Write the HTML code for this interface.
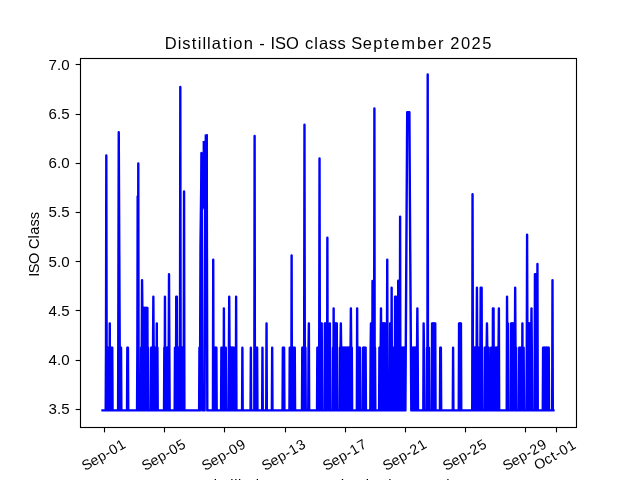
<!DOCTYPE html>
<html><head><meta charset="utf-8"><title>Distillation - ISO class September 2025</title>
<style>html,body{margin:0;padding:0;background:#fff;}svg{display:block;will-change:transform;}text{font-family:"Liberation Sans",sans-serif;fill:#000;}</style></head>
<body><svg width="640" height="480" viewBox="0 0 640 480">
<defs><clipPath id="cp"><rect x="80" y="57.6" width="496" height="369.6"/></clipPath></defs>
<rect x="0" y="0" width="640" height="480" fill="#ffffff"/>
<path d="M102.55 410.40 L105.69 410.40 L106.00 347.79 L106.31 155.54 L106.63 347.79 L106.94 410.40 L107.25 347.79 L107.57 410.40 L107.88 347.79 L108.19 410.40 L108.51 347.79 L108.82 410.40 L109.13 347.79 L109.45 410.40 L109.76 323.34 L110.08 410.40 L110.39 347.79 L110.70 410.40 L111.02 347.79 L111.33 410.40 L111.64 347.79 L111.96 410.40 L112.27 347.79 L112.58 410.40 L118.10 410.40 L118.75 132.29 L120.00 410.40 L120.42 347.79 L120.74 410.40 L121.05 347.79 L121.36 410.40 L127.01 410.40 L127.32 347.79 L127.63 410.40 L127.95 347.79 L128.26 410.40 L137.04 410.40 L137.35 347.79 L137.67 196.54 L137.98 347.79 L138.29 163.54 L138.61 410.40 L140.80 410.40 L141.12 347.79 L141.43 410.40 L141.74 347.79 L142.06 280.24 L142.37 308.04 L142.68 410.40 L143.00 308.04 L143.31 410.40 L143.63 308.04 L143.94 410.40 L144.25 308.04 L144.57 410.40 L144.88 308.04 L145.19 410.40 L145.51 308.04 L145.82 410.40 L146.13 308.04 L146.45 410.40 L146.76 308.04 L147.07 410.40 L147.39 308.04 L147.70 410.40 L148.01 347.79 L148.33 410.40 L150.84 410.40 L151.15 347.79 L151.46 410.40 L151.78 347.79 L152.09 410.40 L152.40 347.79 L152.72 410.40 L153.03 347.79 L153.35 296.79 L153.66 347.79 L153.97 410.40 L154.29 347.79 L154.60 410.40 L154.91 347.79 L155.23 410.40 L155.54 347.79 L155.85 410.40 L156.17 347.79 L156.48 410.40 L156.79 323.34 L157.11 410.40 L157.42 347.79 L157.73 410.40 L164.01 410.40 L164.32 347.79 L164.63 410.40 L164.95 296.79 L165.26 410.40 L165.57 347.79 L165.89 410.40 L166.20 347.79 L166.51 410.40 L166.83 347.79 L167.14 410.40 L167.45 347.79 L167.77 410.40 L168.08 347.79 L168.40 410.40 L168.71 347.79 L169.02 274.29 L169.34 347.79 L169.65 410.40 L174.67 410.40 L174.98 347.79 L175.29 410.40 L175.61 347.79 L175.92 410.40 L176.23 296.79 L176.86 296.79 L177.17 410.40 L177.49 347.79 L177.80 410.40 L178.12 347.79 L178.43 410.40 L178.74 347.79 L179.06 410.40 L179.37 347.79 L179.68 410.40 L180.00 347.79 L180.31 87.04 L180.62 347.79 L180.94 410.40 L181.25 347.79 L181.56 410.40 L181.88 347.79 L182.19 410.40 L182.51 347.79 L182.82 410.40 L183.13 347.79 L183.45 410.40 L183.76 347.79 L184.07 191.54 L184.39 410.40 L199.12 410.40 L199.44 347.79 L199.90 410.40 L200.50 245.54 L201.60 153.04 L202.30 410.40 L204.60 410.40 L205.20 141.79 L206.00 176.04 L206.70 135.29 L207.30 410.40 L212.92 410.40 L213.23 259.79 L213.55 410.40 L213.86 347.79 L214.17 410.40 L214.49 347.79 L214.80 410.40 L215.11 347.79 L215.43 410.40 L215.74 347.79 L216.06 410.40 L216.37 347.79 L216.68 410.40 L221.07 410.40 L221.39 347.79 L221.70 410.40 L222.01 347.79 L222.33 410.40 L222.64 347.79 L222.95 410.40 L223.27 347.79 L223.58 410.40 L223.89 308.34 L224.21 410.40 L224.52 347.79 L224.83 410.40 L225.15 347.79 L225.46 410.40 L225.78 347.79 L226.09 410.40 L228.60 410.40 L228.91 347.79 L229.22 296.79 L229.54 347.79 L229.85 410.40 L230.16 347.79 L230.48 410.40 L230.79 347.79 L231.11 410.40 L231.42 347.79 L231.73 410.40 L232.05 347.79 L232.36 410.40 L232.67 347.79 L232.99 410.40 L233.30 347.79 L233.61 410.40 L233.93 347.79 L234.24 410.40 L235.81 410.40 L236.12 296.79 L236.44 410.40 L242.08 410.40 L242.39 347.79 L242.71 410.40 L250.55 410.40 L250.86 347.79 L251.17 410.40 L254.31 410.40 L254.62 136.04 L254.94 410.40 L255.25 347.79 L255.56 410.40 L255.88 347.79 L256.19 410.40 L256.50 347.79 L256.82 410.40 L257.13 347.79 L257.44 410.40 L262.15 410.40 L262.46 347.79 L262.77 410.40 L266.22 410.40 L266.54 323.34 L266.85 410.40 L271.87 410.40 L272.18 347.79 L272.49 410.40 L282.53 410.40 L282.84 347.79 L283.15 410.40 L283.47 347.79 L283.78 410.40 L284.10 347.79 L284.41 410.40 L289.43 410.40 L289.74 347.79 L290.05 410.40 L290.37 347.79 L290.68 410.40 L291.31 410.40 L291.62 255.54 L291.93 410.40 L293.19 410.40 L293.50 347.79 L293.82 410.40 L294.13 347.79 L294.44 410.40 L294.76 347.79 L295.07 410.40 L301.97 410.40 L302.28 347.79 L302.59 410.40 L302.91 347.79 L303.22 410.40 L303.54 347.79 L303.85 410.40 L304.16 347.79 L304.48 124.79 L304.79 347.79 L305.10 410.40 L305.42 347.79 L305.73 410.40 L308.24 410.40 L308.55 347.79 L308.87 323.34 L309.18 410.40 L317.02 410.40 L317.33 347.79 L317.65 410.40 L317.96 347.79 L318.27 410.40 L318.59 347.79 L318.90 410.40 L319.21 347.79 L319.53 158.54 L319.84 347.79 L320.15 410.40 L320.47 323.34 L320.78 410.40 L321.09 323.34 L321.41 410.40 L321.72 323.34 L322.03 410.40 L324.54 410.40 L324.86 323.34 L325.17 410.40 L325.48 323.34 L325.80 410.40 L326.11 323.34 L326.42 410.40 L326.74 323.34 L327.05 410.40 L327.37 237.79 L327.68 410.40 L329.56 410.40 L329.87 323.34 L330.19 410.40 L332.70 410.40 L333.01 347.79 L333.32 410.40 L333.64 308.34 L333.95 410.40 L334.26 347.79 L334.58 410.40 L334.89 323.34 L335.20 410.40 L335.52 323.34 L335.83 410.40 L336.14 323.34 L336.46 410.40 L336.77 323.34 L337.09 410.40 L339.59 410.40 L339.91 347.79 L340.22 410.40 L340.53 347.79 L340.85 323.34 L341.16 347.79 L341.48 410.40 L341.79 347.79 L342.10 410.40 L342.42 347.79 L342.73 410.40 L343.04 347.79 L343.36 410.40 L343.67 347.79 L343.98 410.40 L344.30 347.79 L344.61 410.40 L344.92 347.79 L345.24 410.40 L345.55 347.79 L345.86 410.40 L346.18 347.79 L346.49 410.40 L346.81 347.79 L347.12 410.40 L347.43 347.79 L347.75 410.40 L348.06 347.79 L348.37 410.40 L348.69 347.79 L349.00 410.40 L349.31 347.79 L349.63 410.40 L349.94 347.79 L350.25 410.40 L350.57 347.79 L350.88 308.34 L351.20 347.79 L351.51 410.40 L351.82 347.79 L352.14 410.40 L356.84 410.40 L357.15 308.34 L357.47 410.40 L357.78 410.40 L358.09 347.79 L358.41 410.40 L358.72 347.79 L359.03 410.40 L359.35 347.79 L359.66 410.40 L359.97 347.79 L360.29 410.40 L362.80 410.40 L363.11 347.79 L363.42 410.40 L363.74 347.79 L364.05 410.40 L364.36 347.79 L364.68 410.40 L364.99 347.79 L365.30 410.40 L365.62 347.79 L365.93 410.40 L370.32 410.40 L370.64 347.79 L370.95 323.34 L371.26 347.79 L371.58 410.40 L371.89 347.79 L372.20 410.40 L372.52 281.04 L372.83 410.40 L373.14 347.79 L373.46 410.40 L373.77 347.79 L374.08 410.40 L374.40 108.54 L374.71 410.40 L375.02 347.79 L375.34 410.40 L379.10 410.40 L379.41 347.79 L379.73 410.40 L380.04 347.79 L380.36 410.40 L380.67 347.79 L380.98 308.34 L381.30 347.79 L381.61 410.40 L381.92 347.79 L382.24 410.40 L382.55 323.34 L382.86 410.40 L383.18 323.34 L383.49 410.40 L383.80 323.34 L384.12 410.40 L384.43 323.34 L384.75 410.40 L385.06 323.34 L385.37 410.40 L385.69 347.79 L386.00 410.40 L386.31 347.79 L386.63 410.40 L386.94 347.79 L387.25 259.79 L387.57 410.40 L389.76 410.40 L390.08 323.34 L390.39 410.40 L391.33 410.40 L391.64 287.79 L391.96 410.40 L392.90 410.40 L393.21 347.79 L393.52 410.40 L393.84 347.79 L394.15 410.40 L394.47 347.79 L394.78 410.40 L395.09 296.79 L396.03 296.79 L396.35 347.79 L396.66 410.40 L396.97 347.79 L397.29 410.40 L397.60 347.79 L397.91 410.40 L398.23 280.74 L398.54 410.40 L398.85 347.79 L399.17 410.40 L399.48 347.79 L399.80 410.40 L400.11 216.79 L400.42 410.40 L400.74 347.79 L401.05 410.40 L401.36 347.79 L401.68 410.40 L401.99 347.79 L402.30 410.40 L402.62 347.79 L402.93 410.40 L403.24 347.79 L403.56 410.40 L403.87 347.79 L404.19 410.40 L404.50 347.79 L405.40 410.40 L407.20 112.29 L409.40 112.29 L409.90 201.04 L411.30 410.40 L412.02 347.79 L412.34 410.40 L412.65 347.79 L412.96 410.40 L413.28 347.79 L413.59 410.40 L413.91 347.79 L414.22 410.40 L414.53 347.79 L414.85 410.40 L415.16 347.79 L415.47 410.40 L415.79 347.79 L416.10 410.40 L416.41 347.79 L416.73 410.40 L417.04 347.79 L417.35 308.34 L417.67 347.79 L417.98 410.40 L423.31 410.40 L423.63 323.34 L423.94 347.79 L424.25 410.40 L426.76 410.40 L427.07 347.79 L427.39 410.40 L427.70 74.54 L428.01 410.40 L428.33 347.79 L428.64 410.40 L428.96 347.79 L429.27 410.40 L431.78 410.40 L432.09 323.34 L432.40 410.40 L432.72 323.34 L433.03 410.40 L433.35 323.34 L433.66 410.40 L433.97 323.34 L434.29 410.40 L434.60 323.34 L434.91 410.40 L435.23 323.34 L435.54 410.40 L439.93 410.40 L440.24 347.79 L440.56 410.40 L440.87 347.79 L441.18 410.40 L452.79 410.40 L453.10 347.79 L453.41 410.40 L458.74 410.40 L459.06 323.34 L459.37 410.40 L459.68 323.34 L460.00 410.40 L460.31 323.34 L460.62 410.40 L460.94 323.34 L461.25 410.40 L472.23 410.40 L472.54 194.29 L472.85 347.79 L473.17 410.40 L473.48 347.79 L473.79 410.40 L474.11 347.79 L474.42 410.40 L474.73 347.79 L475.05 410.40 L475.36 347.79 L475.67 410.40 L475.99 347.79 L476.30 410.40 L476.62 347.79 L476.93 287.79 L477.24 347.79 L477.56 410.40 L477.87 347.79 L478.18 410.40 L478.50 347.79 L478.81 410.40 L480.06 410.40 L480.38 347.79 L480.69 287.79 L481.63 287.79 L481.95 410.40 L484.45 410.40 L484.77 347.79 L485.08 410.40 L485.39 347.79 L485.71 410.40 L486.02 347.79 L486.34 410.40 L486.65 347.79 L486.96 323.34 L487.28 347.79 L487.59 410.40 L487.90 347.79 L488.22 410.40 L488.53 347.79 L488.84 410.40 L490.72 410.40 L491.04 347.79 L491.35 410.40 L491.67 347.79 L491.98 410.40 L492.29 347.79 L492.61 410.40 L492.92 308.34 L493.55 308.34 L493.86 410.40 L494.17 347.79 L494.49 410.40 L494.80 347.79 L495.11 410.40 L495.43 347.79 L495.74 410.40 L496.06 347.79 L496.37 410.40 L496.68 347.79 L497.00 410.40 L497.31 347.79 L497.62 410.40 L497.94 347.79 L498.25 410.40 L498.56 347.79 L498.88 308.34 L499.19 410.40 L506.72 410.40 L507.03 296.79 L507.34 347.79 L507.66 410.40 L507.97 323.34 L508.28 410.40 L510.79 410.40 L511.11 323.34 L511.42 410.40 L511.73 323.34 L512.05 410.40 L512.36 323.34 L512.67 410.40 L512.99 323.34 L513.30 410.40 L513.61 323.34 L513.93 410.40 L514.24 347.79 L514.55 410.40 L514.87 347.79 L515.18 287.79 L515.50 347.79 L515.81 410.40 L516.12 347.79 L516.44 410.40 L518.94 410.40 L519.26 347.79 L519.57 410.40 L519.89 347.79 L520.20 410.40 L520.51 347.79 L520.83 410.40 L521.14 347.79 L521.45 410.40 L521.77 347.79 L522.08 410.40 L522.39 323.34 L522.71 410.40 L523.02 347.79 L523.33 410.40 L523.65 347.79 L523.96 410.40 L526.47 410.40 L526.78 347.79 L527.10 234.79 L527.41 347.79 L527.72 410.40 L528.04 347.79 L528.35 410.40 L528.66 323.34 L528.98 410.40 L529.29 323.34 L529.61 410.40 L529.92 323.34 L530.23 410.40 L530.55 323.34 L530.86 410.40 L531.17 347.79 L531.49 308.34 L531.80 347.79 L532.11 410.40 L534.62 410.40 L534.94 274.29 L536.19 274.29 L536.50 410.40 L536.82 347.79 L537.13 410.40 L537.44 264.04 L537.76 410.40 L542.77 410.40 L543.09 347.79 L543.40 410.40 L543.71 347.79 L544.03 410.40 L544.34 347.79 L544.66 410.40 L544.97 347.79 L545.28 410.40 L545.60 347.79 L545.91 410.40 L546.22 347.79 L546.54 410.40 L546.85 347.79 L547.16 410.40 L547.48 347.79 L547.79 410.40 L548.10 347.79 L548.42 410.40 L548.73 347.79 L549.05 410.40 L552.18 410.40 L552.49 280.29 L552.81 410.40 L553.43 410.40" fill="none" stroke="#0000ff" stroke-width="2.4" stroke-linejoin="round" stroke-linecap="square" clip-path="url(#cp)"/>
<path d="M200.5 152.5 L202.6 152.5 L202.6 141 L204.6 141 L204.6 134.5 L207.9 134.5 L207.9 200 L200.5 215 Z" fill="#0000ff"/>
<rect x="80.5" y="58.5" width="496" height="369" fill="none" stroke="#000" stroke-width="1.111"/>
<line x1="75.64" y1="64.5" x2="80.5" y2="64.5" stroke="#000" stroke-width="1.111"/>
<line x1="75.64" y1="114.5" x2="80.5" y2="114.5" stroke="#000" stroke-width="1.111"/>
<line x1="75.64" y1="163.5" x2="80.5" y2="163.5" stroke="#000" stroke-width="1.111"/>
<line x1="75.64" y1="212.5" x2="80.5" y2="212.5" stroke="#000" stroke-width="1.111"/>
<line x1="75.64" y1="261.5" x2="80.5" y2="261.5" stroke="#000" stroke-width="1.111"/>
<line x1="75.64" y1="310.5" x2="80.5" y2="310.5" stroke="#000" stroke-width="1.111"/>
<line x1="75.64" y1="360.5" x2="80.5" y2="360.5" stroke="#000" stroke-width="1.111"/>
<line x1="75.64" y1="409.5" x2="80.5" y2="409.5" stroke="#000" stroke-width="1.111"/>
<line x1="104.5" y1="427.5" x2="104.5" y2="432.36" stroke="#000" stroke-width="1.111"/>
<line x1="164.5" y1="427.5" x2="164.5" y2="432.36" stroke="#000" stroke-width="1.111"/>
<line x1="224.5" y1="427.5" x2="224.5" y2="432.36" stroke="#000" stroke-width="1.111"/>
<line x1="285.5" y1="427.5" x2="285.5" y2="432.36" stroke="#000" stroke-width="1.111"/>
<line x1="345.5" y1="427.5" x2="345.5" y2="432.36" stroke="#000" stroke-width="1.111"/>
<line x1="405.5" y1="427.5" x2="405.5" y2="432.36" stroke="#000" stroke-width="1.111"/>
<line x1="465.5" y1="427.5" x2="465.5" y2="432.36" stroke="#000" stroke-width="1.111"/>
<line x1="525.5" y1="427.5" x2="525.5" y2="432.36" stroke="#000" stroke-width="1.111"/>
<line x1="556.5" y1="427.5" x2="556.5" y2="432.36" stroke="#000" stroke-width="1.111"/>
<text x="69.6" y="69.7" text-anchor="end" font-size="14.6" textLength="21.0" lengthAdjust="spacingAndGlyphs">7.0</text>
<text x="69.6" y="118.7" text-anchor="end" font-size="14.6" textLength="21.0" lengthAdjust="spacingAndGlyphs">6.5</text>
<text x="69.6" y="167.7" text-anchor="end" font-size="14.6" textLength="21.0" lengthAdjust="spacingAndGlyphs">6.0</text>
<text x="69.6" y="216.7" text-anchor="end" font-size="14.6" textLength="21.0" lengthAdjust="spacingAndGlyphs">5.5</text>
<text x="69.6" y="266.7" text-anchor="end" font-size="14.6" textLength="21.0" lengthAdjust="spacingAndGlyphs">5.0</text>
<text x="69.6" y="315.7" text-anchor="end" font-size="14.6" textLength="21.0" lengthAdjust="spacingAndGlyphs">4.5</text>
<text x="69.6" y="364.7" text-anchor="end" font-size="14.6" textLength="21.0" lengthAdjust="spacingAndGlyphs">4.0</text>
<text x="69.6" y="413.7" text-anchor="end" font-size="14.6" textLength="21.0" lengthAdjust="spacingAndGlyphs">3.5</text>
<text x="-24.34 -15.05 -6.55 1.80 6.99 15.64" y="4.5" font-size="14.2" transform="translate(104.0 455) rotate(-30)">Sep-01</text>
<text x="-24.34 -15.05 -6.55 1.80 6.99 15.64" y="4.5" font-size="14.2" transform="translate(164.0 455) rotate(-30)">Sep-05</text>
<text x="-24.34 -15.05 -6.55 1.80 6.99 15.64" y="4.5" font-size="14.2" transform="translate(224.0 455) rotate(-30)">Sep-09</text>
<text x="-24.34 -15.05 -6.55 1.80 6.99 15.64" y="4.5" font-size="14.2" transform="translate(284.0 455) rotate(-30)">Sep-13</text>
<text x="-24.34 -15.05 -6.55 1.80 6.99 15.64" y="4.5" font-size="14.2" transform="translate(345.0 455) rotate(-30)">Sep-17</text>
<text x="-24.34 -15.05 -6.55 1.80 6.99 15.64" y="4.5" font-size="14.2" transform="translate(405.0 455) rotate(-30)">Sep-21</text>
<text x="-24.34 -15.05 -6.55 1.80 6.99 15.64" y="4.5" font-size="14.2" transform="translate(465.0 455) rotate(-30)">Sep-25</text>
<text x="-24.34 -15.05 -6.55 1.80 6.99 15.64" y="4.5" font-size="14.2" transform="translate(525.0 455) rotate(-30)">Sep-29</text>
<text x="-23.03 -11.97 -3.99 0.74 5.93 14.59" y="4.5" font-size="14.2" transform="translate(555.2 455) rotate(-30)">Oct-01</text>
<text x="164.83 177.74 182.15 191.64 197.72 202.38 207.04 211.75 222.48 228.55 233.26 243.71 253.99 259.22 265.37 270.51 275.10 286.11 299.50 304.95 314.18 318.89 328.87 337.61 346.48 351.26 362.65 373.14 384.05 390.20 401.25 417.02 427.51 437.96 444.53 450.23 460.91 471.58 482.25" y="48.5" font-size="16.5">Distillation - ISO class September 2025</text>
<text x="-32.35 -28.74 -19.69 -8.37 -4.56 5.86 9.60 17.87 25.10" y="0" font-size="14.6" transform="translate(38.5 244.4) rotate(-90)">ISO Class</text>
<text x="202.88 213.80 217.31 225.27 230.32 234.18 238.03 241.77 250.78 255.83 259.57 268.21 276.84 281.24 289.04 297.92 303.37 308.61 317.28 326.43 331.35 335.93 344.58 353.35 361.28 365.82 369.71 378.34 383.27 388.35 397.02 405.52 410.43 423.46 432.10 441.25 446.33" y="489.5" font-size="14.6">Distillation current day in the month</text>
</svg></body></html>
